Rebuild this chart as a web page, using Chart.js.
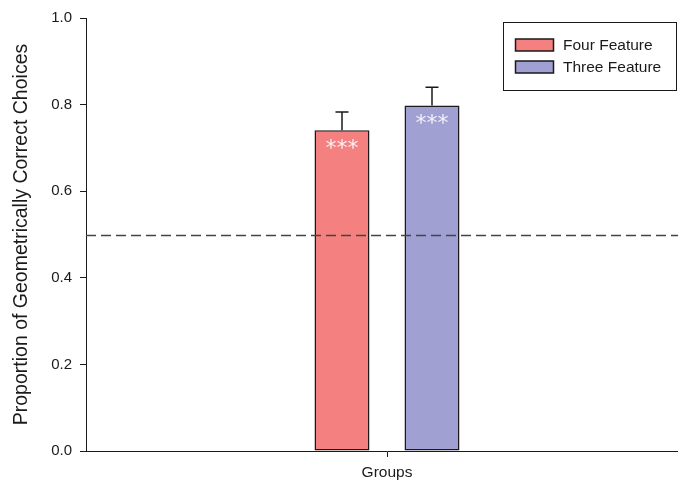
<!DOCTYPE html>
<html>
<head>
<meta charset="utf-8">
<script src="https://cdn.jsdelivr.net/npm/chart.js@4/dist/chart.umd.min.js"></script>
<style>
  html, body { margin: 0; padding: 0; background: #ffffff; overflow: hidden; }
  #wrap { position: relative; width: 690px; height: 486px; }
</style>
</head>
<body>
<div id="wrap"><canvas id="c" width="690" height="486"></canvas></div>
<script>
// Data
const categories = ['Groups'];
const seriesNames = ['Four Feature', 'Three Feature'];
const fourFeature = [0.741];
const threeFeature = [0.798];
const fourFeatureErr = [0.042];
const threeFeatureErr = [0.042];
const sigMarks = ['***', '***'];
const yTicks = [0.0, 0.2, 0.4, 0.6, 0.8, 1.0];
const chanceLevel = 0.5;
const yTitle = 'Proportion of Geometrically Correct Choices';

const FONT = '"Liberation Sans", Arial, sans-serif';
const INK = '#1a1a1a';

// Upward error bars with a cap, plus significance stars inside each bar
const errorBars = {
  id: 'errorBars',
  afterDatasetsDraw(chart) {
    const ctx = chart.ctx;
    const y = chart.scales.y;
    chart.data.datasets.forEach((ds, di) => {
      const meta = chart.getDatasetMeta(di);
      meta.data.forEach((bar, i) => {
        const v = ds.data[i];
        const top = y.getPixelForValue(v + ds.err[i]);
        const base = y.getPixelForValue(v);
        ctx.save();
        ctx.strokeStyle = INK;
        ctx.lineWidth = 1.5;
        ctx.beginPath();
        ctx.moveTo(bar.x, base);
        ctx.lineTo(bar.x, top);
        ctx.moveTo(bar.x - 6.5, top);
        ctx.lineTo(bar.x + 6.5, top);
        ctx.stroke();
        ctx.fillStyle = 'rgba(248,246,250,0.95)';
        ctx.font = '22px "DejaVu Sans", sans-serif';
        ctx.textAlign = 'center';
        ctx.textBaseline = 'middle';
        ctx.fillText(ds.sig[i], bar.x, base + 19);
        ctx.restore();
      });
    });
  }
};

// Dashed reference line at chance level
const chanceLine = {
  id: 'chanceLine',
  afterDatasetsDraw(chart) {
    const ctx = chart.ctx;
    const a = chart.chartArea;
    const py = Math.round(chart.scales.y.getPixelForValue(chanceLevel)) + 0.5;
    ctx.save();
    ctx.strokeStyle = '#444444';
    ctx.lineWidth = 1.5;
    ctx.setLineDash([10, 5]);
    ctx.beginPath();
    ctx.moveTo(a.left, py);
    ctx.lineTo(a.right, py);
    ctx.stroke();
    ctx.restore();
  }
};

// Boxed legend in the upper right of the plot
const boxLegend = {
  id: 'boxLegend',
  afterDraw(chart) {
    const ctx = chart.ctx;
    const bx = 503.5, by = 22.5, bw = 173, bh = 68;
    ctx.save();
    ctx.fillStyle = '#ffffff';
    ctx.fillRect(bx, by, bw, bh);
    ctx.strokeStyle = INK;
    ctx.lineWidth = 1;
    ctx.strokeRect(bx, by, bw, bh);
    ctx.font = '15.5px ' + FONT;
    ctx.textBaseline = 'middle';
    ctx.textAlign = 'left';
    chart.data.datasets.forEach((ds, i) => {
      const rowY = 45 + i * 22;
      ctx.fillStyle = ds.backgroundColor;
      ctx.fillRect(515.5, rowY - 6, 38, 12);
      ctx.strokeStyle = INK;
      ctx.lineWidth = 1.5;
      ctx.strokeRect(515.5, rowY - 6, 38, 12);
      ctx.fillStyle = INK;
      ctx.fillText(ds.label, 563, rowY + 0.5);
    });
    ctx.restore();
  }
};

new Chart(document.getElementById('c'), {
  type: 'bar',
  data: {
    labels: categories,
    datasets: [
      {
        label: seriesNames[0],
        data: fourFeature,
        err: fourFeatureErr,
        sig: [sigMarks[0]],
        backgroundColor: '#f58080',
        borderColor: INK,
        borderWidth: 1.5,
        borderSkipped: false
      },
      {
        label: seriesNames[1],
        data: threeFeature,
        err: threeFeatureErr,
        sig: [sigMarks[1]],
        backgroundColor: '#a0a0d2',
        borderColor: INK,
        borderWidth: 1.5,
        borderSkipped: false
      }
    ]
  },
  options: {
    responsive: false,
    animation: false,
    devicePixelRatio: 1,
    categoryPercentage: 0.299,
    barPercentage: 0.611,
    layout: { padding: { top: 18, right: 2, bottom: 0, left: 0 } },
    plugins: {
      legend: { display: false },
      tooltip: { enabled: false }
    },
    scales: {
      x: {
        grid: {
          display: true,
          drawOnChartArea: false,
          drawTicks: true,
          tickLength: 6,
          offset: false,
          color: INK
        },
        border: { display: true, color: INK, width: 1 },
        ticks: {
          color: INK,
          padding: 6,
          font: { family: FONT, size: 15.5 }
        },
        afterFit(s) { s.height = 35; }
      },
      y: {
        min: 0,
        max: 1,
        afterBuildTicks(s) { s.ticks = yTicks.map(v => ({ value: v })); },
        grid: {
          display: true,
          drawOnChartArea: false,
          drawTicks: true,
          tickLength: 6,
          color: INK
        },
        border: { display: true, color: INK, width: 1 },
        ticks: {
          color: INK,
          padding: 8,
          font: { family: FONT, size: 15 },
          callback: v => Number(v).toFixed(1)
        },
        title: {
          display: true,
          text: yTitle,
          color: INK,
          padding: { top: 10, bottom: 0 },
          font: { family: FONT, size: 19.5 }
        },
        afterFit(s) { s.width = 86; }
      }
    }
  },
  plugins: [chanceLine, errorBars, boxLegend]
});
</script>
</body>
</html>
